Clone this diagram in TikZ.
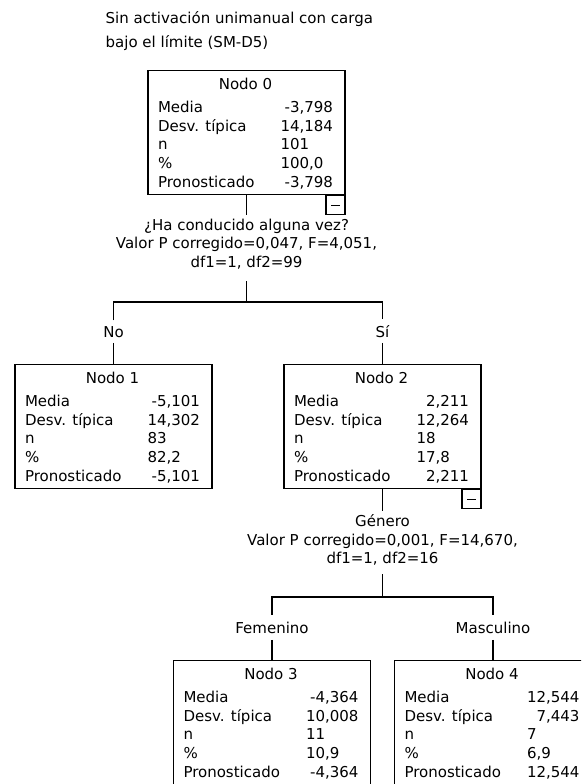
\documentclass[tikz,border=0pt]{standalone}
\usepackage{fontspec}
\setmainfont{DejaVu Sans}
\usepackage{tikz}

% caja de un nodo: titulo, media, desv. tipica, n, %, pronosticado
\newcommand{\nodo}[6]{%
  \kern10pt
  \begin{tabular*}{175pt}{@{}l@{\extracolsep{\fill}}r@{}}
    \multicolumn{2}{c}{\rule{0pt}{19pt}#1}\\[4pt]
    Media & #2\\
    Desv. típica & #3\\
    n & \multicolumn{1}{@{}l@{}}{#4}\\
    \% & \multicolumn{1}{@{}l@{}}{#5}\\
    Pronosticado & #6\rule[-7pt]{0pt}{7pt}
  \end{tabular*}%
  \kern12pt}

\begin{document}
\begin{tikzpicture}[x=1pt, y=-1pt, line width=1.3pt,
    every node/.style={font=\fontsize{15}{18.75}\selectfont},
    caja/.style={draw, inner sep=0pt, anchor=north},
    menos/.style={draw, inner sep=0pt, minimum size=19pt, anchor=north east},
    rama/.style={anchor=base, inner sep=5pt},
    corte/.style={align=center, anchor=north, inner sep=3pt,
      font=\fontsize{15}{18.5}\selectfont}]
    \useasboundingbox (0,0) rectangle (581,784);
    \clip (0,0) rectangle (581,784);

    % titulo
    \node[anchor=north west, align=left, inner sep=0pt,
      font=\fontsize{15}{24}\selectfont] (titulo) at (105,11)
      {Sin activación unimanual con carga\\bajo el límite (SM-D5)};

    % Nodo 0
    \node[caja] (n0) at (246.5,70) {\nodo{Nodo 0}{-3,798}{14,184}{101}{100,0}{-3,798}};
    \node[menos] (m0) at (n0.south east) {};
    \draw (m0.center) +(-4.5,0) -- +(4.5,0);

    \node[corte] (c0) at (246.5,215)
      {¿Ha conducido alguna vez?\\Valor P corregido=0,047, F=4,051,\\df1=1, df2=99};
    \coordinate (j0) at (246.5,302);

    \node[rama] (r1) at (113.5,337) {No};
    \node[rama] (r2) at (382.5,337) {Sí};

    % Nodo 1 y Nodo 2
    \node[caja] (n1) at (113.5,364) {\nodo{Nodo 1}{-5,101}{14,302}{83}{82,2}{-5,101}};
    \node[caja] (n2) at (382.5,364) {\nodo{Nodo 2}{2,211}{12,264}{18}{17,8}{2,211}};
    \node[menos] (m2) at (n2.south east) {};
    \draw (m2.center) +(-4.5,0) -- +(4.5,0);

    \node[corte] (c2) at (382.5,511)
      {Género\\Valor P corregido=0,001, F=14,670,\\df1=1, df2=16};
    \coordinate (j2) at (382.5,597);

    \node[rama, inner sep=6pt] (r3) at (272,633) {Femenino};
    \node[rama, inner sep=6pt] (r4) at (493,633) {Masculino};

    % Nodo 3 y Nodo 4
    \node[caja] (n3) at (272,660) {\nodo{Nodo 3}{-4,364}{10,008}{11}{10,9}{-4,364}};
    \node[caja] (n4) at (493,660) {\nodo{Nodo 4}{12,544}{7,443}{7}{6,9}{12,544}};

    % lineas del arbol
    \draw (n0) -- (c0);
    \draw[shorten <=9pt] (c0) -- (j0);
    \draw (r1) |- (j0) -| (r2);
    \draw (r1) -- (n1);
    \draw (r2) -- (n2);

    \draw (n2) -- (c2);
    \draw[shorten <=5pt] (c2) -- (j2);
    \draw (r3) |- (j2) -| (r4);
    \draw (r3) -- (n3);
    \draw (r4) -- (n4);
\end{tikzpicture}
\end{document}
